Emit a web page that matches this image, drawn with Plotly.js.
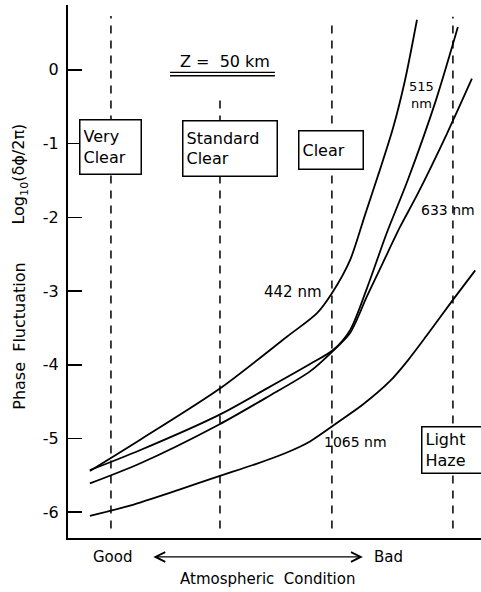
<!DOCTYPE html>
<html>
<head>
<meta charset="utf-8">
<script src="https://cdn.plot.ly/plotly-3.0.1.min.js"></script>
<style>html,body{margin:0;padding:0;background:#fff;}#chart{width:481px;height:592px;}</style>
</head>
<body>
<div id="chart"></div>
<script>
// ---- data ----
const curveNames = ['442 nm', '515 nm', '633 nm', '1065 nm'];

const x442 = [0.53, 1.74, 3.66, 5.30, 6.03, 6.39, 6.83, 7.19, 7.55, 7.87, 8.16, 8.45];
const y442 = [-5.44, -5.02, -4.33, -3.62, -3.30, -3.03, -2.58, -1.97, -1.36, -0.79, -0.14, 0.68];

const x515 = [0.53, 1.74, 3.66, 4.82, 5.86, 6.42, 6.83, 7.24, 7.72, 8.23, 8.91, 9.44];
const y515 = [-5.43, -5.16, -4.68, -4.32, -3.99, -3.80, -3.53, -2.96, -2.21, -1.49, -0.41, 0.58];

const x633 = [0.53, 1.74, 3.66, 4.82, 5.86, 6.42, 6.83, 7.24, 7.63, 8.04, 8.45, 9.18, 9.78];
const y633 = [-5.61, -5.34, -4.81, -4.44, -4.09, -3.81, -3.57, -3.07, -2.61, -2.13, -1.70, -0.86, -0.12];

const x1065 = [0.53, 1.50, 2.66, 3.66, 4.48, 5.30, 5.86, 6.51, 7.14, 7.80, 8.23, 8.69, 9.32, 9.86];
const y1065 = [-6.05, -5.91, -5.70, -5.51, -5.36, -5.19, -5.04, -4.79, -4.54, -4.22, -3.94, -3.60, -3.12, -2.72];

const conditionNames = ['Very<br>Clear', 'Standard<br>Clear', 'Clear', 'Light<br>Haze'];
const conditionX = [1.04, 3.68, 6.39, 9.32];
const conditionTop = [0.73, -0.41, 0.64, 0.72];
const conditionBottom = -6.22;

const yTickVals = [0, -1, -2, -3, -4, -5, -6];
const yTickText = ['0', '-1', '-2', '-3', '-4', '-5', '-6'];

// ---- chart ----
const FONT = 'DejaVu Sans, sans-serif';
const xs = [x442, x515, x633, x1065];
const ys = [y442, y515, y633, y1065];

const traces = curveNames.map((n, i) => ({
  type: 'scatter', mode: 'lines', name: n,
  x: xs[i], y: ys[i],
  line: {color: '#000', width: 1.8, shape: 'spline', smoothing: 0.8},
  hoverinfo: 'skip'
}));

const shapes = conditionX.map((cx, i) => ({
  type: 'line', xref: 'x', yref: 'y', layer: 'below',
  x0: cx, x1: cx, y0: conditionBottom, y1: conditionTop[i],
  line: {color: '#000', width: 1.5, dash: '8px,7px'}
}));
// double underline under "Z = 50 km"
shapes.push({type: 'line', xref: 'x', yref: 'y', x0: 2.47, x1: 5.01, y0: -0.035, y1: -0.035, line: {color: '#000', width: 1.3}});
shapes.push({type: 'line', xref: 'x', yref: 'y', x0: 2.47, x1: 5.01, y0: -0.08, y1: -0.08, line: {color: '#000', width: 1.3}});

// condition boxes: [x, y, width, height]
const boxGeom = [[1.04, -1.05, 54, 47], [3.93, -1.07, 87, 48], [6.36, -1.09, 57, 31], [9.33, -5.15, 56, 39]];
const annotations = conditionNames.map((t, i) => ({
  xref: 'x', yref: 'y', x: boxGeom[i][0], y: boxGeom[i][1],
  text: t, showarrow: false, align: 'left',
  width: boxGeom[i][2], height: boxGeom[i][3],
  bgcolor: '#fff', bordercolor: '#000', borderwidth: 1.5, borderpad: 3,
  font: {family: FONT, size: 16, color: '#000'}
}));

const curveLabelPos = [[5.45, -3.01, 15], [8.57, -0.34, 13], [9.20, -1.90, 14], [6.97, -5.05, 14]];
const curveLabelText = ['442 nm', '515<br>nm', '633 nm', '1065 nm'];
curveLabelText.forEach((t, i) => annotations.push({
  xref: 'x', yref: 'y', x: curveLabelPos[i][0], y: curveLabelPos[i][1],
  text: t, showarrow: false,
  font: {family: FONT, size: curveLabelPos[i][2], color: '#000'}
}));

annotations.push({xref: 'x', yref: 'y', x: 3.80, y: 0.11, text: 'Z =  50 km', showarrow: false,
  font: {family: FONT, size: 16, color: '#000'}});

// y titles
annotations.push({xref: 'paper', yref: 'y', x: 0, xshift: -48, xanchor: 'center', y: -3.62,
  text: 'Phase  Fluctuation', textangle: -90, showarrow: false,
  font: {family: FONT, size: 16, color: '#000'}});
annotations.push({xref: 'paper', yref: 'y', x: 0, xshift: -48, xanchor: 'center', y: -1.42,
  text: 'Log<sub>10</sub>(δϕ/2π)', textangle: -90, showarrow: false,
  font: {family: FONT, size: 16, color: '#000'}});

// x axis condition labels (below the plot area)
annotations.push({xref: 'x', yref: 'paper', x: 1.09, y: -0.0356, yanchor: 'middle', text: 'Good', showarrow: false,
  font: {family: FONT, size: 15, color: '#000'}});
annotations.push({xref: 'x', yref: 'paper', x: 7.75, y: -0.0356, yanchor: 'middle', text: 'Bad', showarrow: false,
  font: {family: FONT, size: 15, color: '#000'}});
annotations.push({xref: 'x', yref: 'paper', axref: 'x', ayref: 'pixel', x: 7.14, y: -0.0356, ax: 2.03, ay: 0,
  text: '', showarrow: true, arrowside: 'end+start', arrowhead: 5, startarrowhead: 5,
  arrowsize: 1.6, startarrowsize: 1.6, arrowwidth: 1.2, arrowcolor: '#000'});
annotations.push({xref: 'x', yref: 'paper', x: 4.84, y: -0.077, yanchor: 'middle', text: 'Atmospheric  Condition', showarrow: false,
  font: {family: FONT, size: 15, color: '#000'}});

const layout = {
  width: 481, height: 592,
  margin: {l: 68, r: 0, t: 5, b: 54},
  paper_bgcolor: '#fff', plot_bgcolor: '#fff',
  showlegend: false,
  font: {family: FONT, size: 16, color: '#000'},
  xaxis: {range: [0, 10], showline: true, linecolor: '#000', linewidth: 2,
    showgrid: false, zeroline: false, showticklabels: false, ticks: ''},
  yaxis: {range: [-6.35, 0.88], showline: true, linecolor: '#000', linewidth: 2,
    showgrid: false, zeroline: false, ticks: 'inside', ticklen: 14, tickwidth: 1.5, tickcolor: '#000',
    tickvals: yTickVals, ticktext: yTickText, ticklabelstandoff: 4,
    tickfont: {family: FONT, size: 16, color: '#000'}},
  shapes: shapes,
  annotations: annotations
};

Plotly.newPlot('chart', traces, layout, {staticPlot: true, displayModeBar: false});
</script>
</body>
</html>
